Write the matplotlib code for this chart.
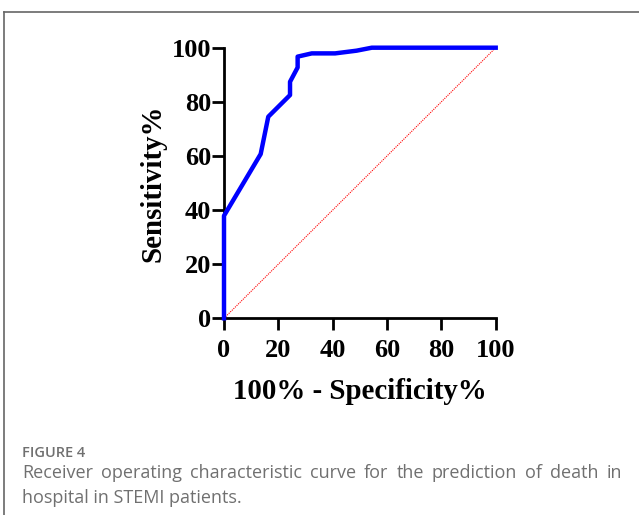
import matplotlib.pyplot as plt
from matplotlib.lines import Line2D

# ROC curve points
fpr = [0, 0, 13.5, 16.3, 24.3, 24.3, 27.1, 27.1, 32.3, 40.9, 48.8, 54.4, 100]
tpr = [0, 37.9, 60.7, 74.5, 82.5, 87.4, 92.7, 96.7, 97.9, 97.9, 98.9, 100, 100]
ticks = [0, 20, 40, 60, 80, 100]

caption_title = 'FIGURE 4'
caption_lines = ['Receiver operating characteristic curve for the prediction of death in',
                 'hospital in STEMI patients.']

W, H = 639, 515
fig = plt.figure(figsize=(W / 100, H / 100), dpi=100)
ax = fig.add_axes([224 / W, 1 - 318.3 / H, 271.7 / W, 270.6 / H])

ax.plot([0, 100], [0, 100], color='red', lw=0.8, ls=(0, (1, 1)), clip_on=False, zorder=2)
ax.plot(fpr, tpr, color='#0000ff', lw=3.2, clip_on=False, zorder=3)

ax.set_xlim(0, 100)
ax.set_ylim(0, 100)
ax.set_xticks(ticks)
ax.set_yticks(ticks)

tick_font = {'family': 'Liberation Serif', 'weight': 'bold', 'size': 19}
label_font = {'family': 'Liberation Serif', 'weight': 'bold', 'size': 20.8}
ax.set_xticklabels([str(t) for t in ticks], fontdict=tick_font)
ax.set_yticklabels([str(t) for t in ticks], fontdict=tick_font)
ax.tick_params(direction='out', length=8.6, width=2)
ax.tick_params(axis='x', pad=6)
ax.tick_params(axis='y', pad=0.5)

for s in ['top', 'right']:
    ax.spines[s].set_visible(False)
for s in ['left', 'bottom']:
    ax.spines[s].set_linewidth(2)

ax.set_xlabel('100% - Specificity%', fontdict=label_font, labelpad=12)
ax.set_ylabel('Sensitivity%', fontdict=label_font, labelpad=4)

# figure frame (top and left rules)
fig.add_artist(Line2D([4 / W, 1], [1 - 12 / H, 1 - 12 / H], color='#666666', lw=1.2))
fig.add_artist(Line2D([4 / W, 4 / W], [0, 1 - 12 / H], color='#666666', lw=1.2))

cap_color = '#707070'
fig.text(22 / W, 1 - 453 / H, caption_title, family='Open Sans', weight='semibold',
         size=10.5, color=cap_color, va='center', ha='left')

# first caption line is justified between x=22 and x=622
renderer = fig.canvas.get_renderer()
words = caption_lines[0].split()
wtexts = [fig.text(0, 1 - 473 / H, w, family='Open Sans', size=13, color=cap_color,
                   va='center', ha='left') for w in words]
widths = [t.get_window_extent(renderer).width for t in wtexts]
gap = (600 - sum(widths)) / (len(words) - 1)
x = 22
for t, w in zip(wtexts, widths):
    t.set_x(x / W)
    x += w + gap

fig.text(22 / W, 1 - 498 / H, caption_lines[1], family='Open Sans', size=13,
         color=cap_color, va='center', ha='left')

fig.savefig('out.png', dpi=100)
